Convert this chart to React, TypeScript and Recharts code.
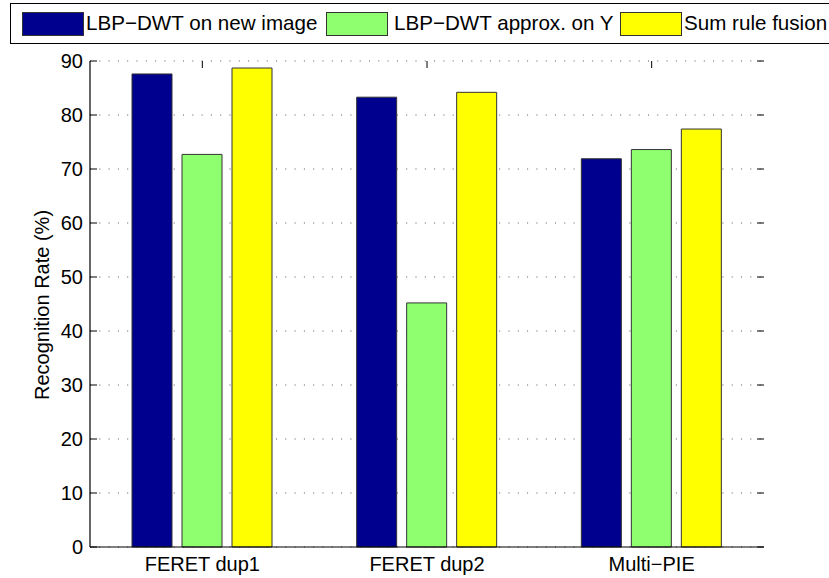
import { BarChart, Bar, XAxis, YAxis, CartesianGrid } from 'recharts';

const categories = ['FERET dup1', 'FERET dup2', 'Multi\u2212PIE'];
const lbpDwtNew = [87.6, 83.3, 71.9];
const lbpDwtApproxY = [72.7, 45.2, 73.6];
const sumRuleFusion = [88.7, 84.2, 77.4];
const yTicks = [0, 10, 20, 30, 40, 50, 60, 70, 80, 90];

const seriesNames = ['LBP\u2212DWT on new image', 'LBP\u2212DWT approx. on Y', 'Sum rule fusion'];
const seriesColors = ['#00008F', '#8FFF70', '#FFFF00'];

const data = categories.map((name, i) => ({
	name,
	a: lbpDwtNew[i],
	b: lbpDwtApproxY[i],
	c: sumRuleFusion[i],
}));

const W = 829;
const H = 578;
const PLOT_LEFT = 90;
const PLOT_RIGHT = 764;
const PLOT_TOP = 61;
const PLOT_BOTTOM = 547;
const FONT = '"Liberation Sans", Arial, Helvetica, sans-serif';
const TICK_LEN = 7;

// legend layout (swatch left edge, text left edge), matching the MATLAB legend
const legendSwatchX = [22, 326, 620];
const legendTextX = [86, 394, 684];

function YTick(props: any) {
	const { x, y, payload } = props;
	return (
		<g>
			<line x1={PLOT_LEFT} x2={PLOT_LEFT + TICK_LEN} y1={y} y2={y} stroke="#000" strokeWidth={1} />
			<line x1={PLOT_RIGHT - TICK_LEN} x2={PLOT_RIGHT} y1={y} y2={y} stroke="#000" strokeWidth={1} />
			<text x={x - 7} y={y} textAnchor="end" dominantBaseline="central" fontSize={20} fontFamily={FONT} fill="#000">
				{payload.value}
			</text>
		</g>
	);
}

function XTick(props: any) {
	const { x, y, payload } = props;
	return (
		<g>
			<line x1={x} x2={x} y1={PLOT_TOP} y2={PLOT_TOP + TICK_LEN} stroke="#000" strokeWidth={1} />
			<text x={x} y={y + 24} textAnchor="middle" fontSize={20} fontFamily={FONT} fill="#000">
				{payload.value}
			</text>
		</g>
	);
}

function AxisTitle() {
	return (
		<text
			x={42}
			y={305}
			transform="rotate(-90 42 305)"
			textAnchor="middle"
			dominantBaseline="central"
			fontSize={20}
			fontFamily={FONT}
			fill="#000"
		>
			Recognition Rate (%)
		</text>
	);
}

function LegendBox() {
	return (
		<div
			style={{
				position: 'absolute',
				left: 10,
				top: 3,
				width: 900,
				height: 41,
				border: '1px solid #000',
				background: '#fff',
				boxSizing: 'border-box',
				fontFamily: FONT,
				fontSize: 20.6,
				whiteSpace: 'nowrap',
			}}
		>
			{seriesNames.map((n, i) => (
				<div key={n}>
					<span
						style={{
							position: 'absolute',
							left: legendSwatchX[i] - 11,
							top: 8,
							width: 62,
							height: 24,
							background: seriesColors[i],
							border: '1px solid #333',
							boxSizing: 'border-box',
						}}
					/>
					<span style={{ position: 'absolute', left: legendTextX[i] - 11, top: 7, lineHeight: '24px' }}>{n}</span>
				</div>
			))}
		</div>
	);
}

export default function App() {
	return (
		<div style={{ position: 'absolute', left: 0, top: 0, width: W, height: H, overflow: 'hidden', background: '#fff' }}>
			<BarChart
				width={W}
				height={H}
				data={data}
				margin={{ top: PLOT_TOP, right: W - PLOT_RIGHT, bottom: 0, left: 0 }}
				barSize={40}
				barGap={10}
			>
				<CartesianGrid vertical={false} stroke="#555" strokeDasharray="1 8.3" />
				<XAxis
					dataKey="name"
					height={H - PLOT_BOTTOM}
					axisLine={{ stroke: '#000', strokeWidth: 1.2 }}
					tickLine={false}
					tickSize={0}
					tickMargin={0}
					tick={<XTick />}
					interval={0}
				/>
				<XAxis xAxisId="top" orientation="top" dataKey="name" height={0} axisLine={{ stroke: '#000', strokeWidth: 1.2 }} tick={false} tickLine={false} />
				<YAxis
					width={PLOT_LEFT}
					domain={[0, 90]}
					ticks={yTicks}
					axisLine={{ stroke: '#000', strokeWidth: 1.2 }}
					tickLine={false}
					tickSize={0}
					tickMargin={0}
					tick={<YTick />}
					interval={0}
				/>
				<YAxis yAxisId="right" orientation="right" width={0} domain={[0, 90]} axisLine={{ stroke: '#000', strokeWidth: 1.2 }} tick={false} tickLine={false} />
				<Bar dataKey="a" name={seriesNames[0]} fill={seriesColors[0]} stroke="#333" strokeWidth={1} isAnimationActive={false} />
				<Bar dataKey="b" name={seriesNames[1]} fill={seriesColors[1]} stroke="#333" strokeWidth={1} isAnimationActive={false} />
				<Bar dataKey="c" name={seriesNames[2]} fill={seriesColors[2]} stroke="#333" strokeWidth={1} isAnimationActive={false} />
				<AxisTitle />
			</BarChart>
			<LegendBox />
		</div>
	);
}
